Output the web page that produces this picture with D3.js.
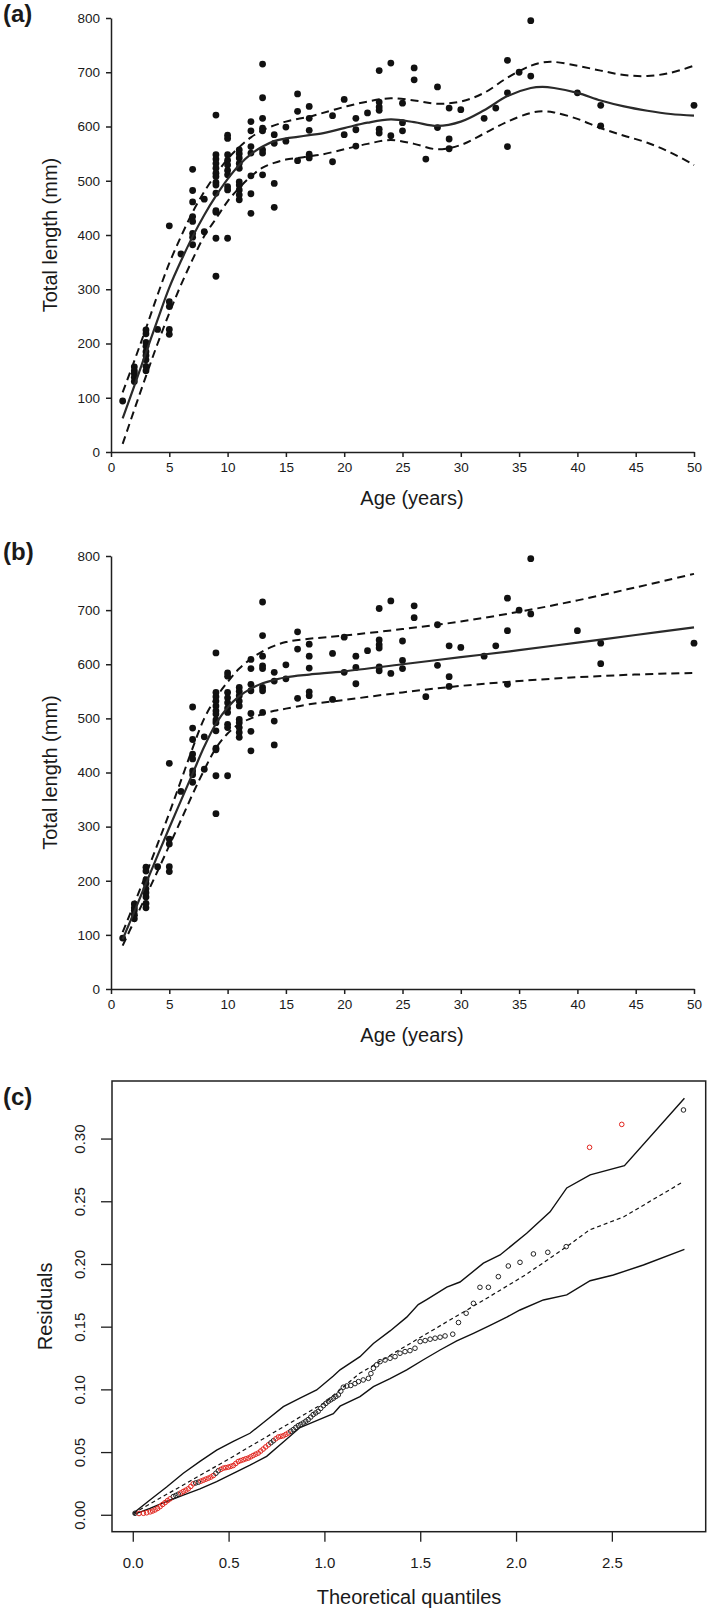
<!DOCTYPE html>
<html>
<head>
<meta charset="utf-8">
<script src="https://cdn.jsdelivr.net/npm/d3@7"></script>
<style>
body { margin: 0; background: #fff; }
svg text { font-family: "Liberation Sans", Arial, Helvetica, sans-serif; fill: #1a1a1a; }
</style>
</head>
<body>
<div id="chart"></div>
<script>
// observed fish: age (years) and total length (mm), same data in panels a and b
const ageObs = [1,
  2,2,2,2,2,
  3,3,3,3,3,3,3,3,3,
  4,
  5,5,5,5,5,
  6,
  7,7,7,7,7,7,7,7,
  8,8,
  9,9,9,9,9,9,9,9,9,9,9,9,9,9,
  10,10,10,10,10,10,10,10,10,10,
  11,11,11,11,11,11,11,11,11,11,
  12,12,12,12,12,12,12,
  13,13,13,13,13,13,13,13,
  14,14,14,14,
  15,15,
  16,16,16,
  17,17,17,17,17,
  19,19,
  20,20,
  21,21,21,
  22,
  23,23,23,23,23,23,
  24,24,
  25,25,25,
  26,26,
  27,
  28,28,
  29,29,29,
  30, 32, 33,
  34,34,34,
  35,
  36,36,
  40,
  42,42,
  50];
const lenObs = [94,
  157,150,145,138,130,
  225,218,202,195,185,178,170,158,150,
  226,
  417,277,268,226,217,
  365,
  521,482,461,434,425,403,396,382,
  466,406,
  621,548,540,532,523,514,508,497,492,477,445,442,394,324,
  584,578,548,538,529,519,511,489,483,394,
  557,550,542,532,523,498,492,483,474,465,
  609,592,563,551,509,476,440,
  715,653,615,597,592,557,551,511,
  585,569,495,451,
  599,573,
  660,628,537,
  637,615,593,549,542,
  620,535,
  650,585,
  615,594,564,
  625,
  703,645,636,630,595,588,
  717,583,
  643,607,592,
  708,686,
  540,
  673,598,
  634,577,559,
  631, 615, 634,
  722,662,563,
  700,
  795,693,
  662,
  639,601,
  639];

// panel a: smooth fit and its dashed band
const fitAgeA = [1,2,3,4,5,6,7,8,9,10,11,12,13,14,15,16,17,18,20,22,24,26,28,30,32,34,36,37,38,40,42,44,46,48,50];
const fitMidA = [62,122,183,244,303,352,397,437,472,503,529,549,563,573,578,581,584,587,597,607,613,608,601,609,630,656,671,673,671,662,648,637,629,623,620];
const fitUpA  = [110,168,228,290,348,397,442,480,512,540,562,580,593,602,609,614,618,624,636,646,652,648,642,646,662,690,712,718,719,712,703,695,693,699,712];
const fitLoA  = [15,78,140,200,256,308,355,398,430,462,487,508,524,533,539,542,545,548,558,568,575,568,558,566,587,609,625,628,626,614,597,583,570,552,529];

// panel b: growth curve and its dashed band
const fitAgeB = [1,2,3,4,5,6,7,8,9,10,11,12,13,14,15,17,20,25,30,35,40,45,50];
const fitMidB = [92,143,195,247,298,348,398,448,490,520,541,555,565,571,576,581,587,600,613,626,640,654,668];
const fitUpB  = [105,158,212,268,325,385,445,500,538,567,592,610,624,634,641,647,653,665,679,697,718,742,767];
const fitLoB  = [80,126,172,218,265,312,360,405,445,472,490,500,508,514,518,526,534,548,560,569,576,581,584];

// panel c: residual quantile plot (isRed 1 = red circle)
const qqTheo = [0.009,0.030,0.053,0.070,0.088,0.101,0.114,0.127,0.140,0.153,0.166,0.179,0.192,0.209,0.222,0.235,0.248,0.261,0.274,0.287,0.300,0.313,0.326,0.340,0.353,0.366,0.379,0.392,0.405,0.418,0.431,0.444,0.457,0.470,0.483,0.496,0.509,0.522,0.535,0.548,0.561,0.574,0.587,0.600,0.613,0.626,0.639,0.652,0.665,0.678,0.691,0.705,0.718,0.731,0.744,0.757,0.770,0.783,0.796,0.809,0.822,0.835,0.848,0.861,0.874,0.887,0.900,0.913,0.926,0.939,0.952,0.965,0.978,0.992,1.005,1.018,1.031,1.044,1.057,1.070,1.083,1.096,1.114,1.135,1.157,1.175,1.200,1.227,1.240,1.253,1.270,1.288,1.314,1.340,1.366,1.392,1.418,1.444,1.470,1.497,1.523,1.549,1.575,1.601,1.627,1.667,1.697,1.737,1.775,1.809,1.853,1.905,1.957,2.018,2.088,2.163,2.259,2.381,2.549,2.871];
const qqResid = [0.0016,0.0014,0.0016,0.0020,0.0027,0.0034,0.0043,0.0055,0.0069,0.0086,0.0101,0.0117,0.0131,0.0149,0.0158,0.0168,0.0178,0.0190,0.0200,0.0211,0.0230,0.0251,0.0258,0.0264,0.0272,0.0280,0.0288,0.0296,0.0305,0.0317,0.0335,0.0355,0.0366,0.0376,0.0380,0.0384,0.0390,0.0397,0.0413,0.0429,0.0436,0.0443,0.0450,0.0456,0.0466,0.0477,0.0487,0.0496,0.0512,0.0528,0.0545,0.0562,0.0578,0.0594,0.0610,0.0624,0.0629,0.0634,0.0645,0.0656,0.0670,0.0683,0.0700,0.0715,0.0725,0.0736,0.0750,0.0763,0.0783,0.0803,0.0816,0.0829,0.0852,0.0874,0.0892,0.0909,0.0921,0.0933,0.0947,0.0960,0.0990,0.1021,0.1031,0.1035,0.1050,0.1066,0.1079,0.1092,0.1130,0.1172,0.1200,0.1225,0.1238,0.1252,0.1265,0.1292,0.1305,0.1313,0.1332,0.1385,0.1393,0.1404,0.1412,0.1420,0.1430,0.1444,0.1537,0.1611,0.1690,0.1818,0.1818,0.1903,0.1988,0.2017,0.2084,0.2097,0.2142,0.2934,0.3117,0.3232];
const qqIsRed = [0,1,1,1,1,1,1,1,1,1,1,1,1,0,0,0,1,1,1,1,1,1,0,0,1,1,1,1,1,1,0,0,1,1,1,1,1,1,1,1,1,1,1,1,1,1,1,1,1,1,1,1,0,0,1,1,1,1,1,1,0,0,0,0,0,0,0,0,0,0,0,0,0,0,0,0,0,0,0,0,0,0,0,0,0,0,0,0,0,0,0,0,0,0,0,0,0,0,0,0,0,0,0,0,0,0,0,0,0,0,0,0,0,0,0,0,0,1,1,0];

const envUpTheo = [0,0.087,0.174,0.261,0.348,0.435,0.522,0.609,0.696,0.783,0.870,0.957,1.044,1.079,1.183,1.253,1.340,1.427,1.487,1.531,1.636,1.705,1.827,1.914,2.053,2.175,2.262,2.384,2.563,2.876];
const envUp     = [0.0016,0.0122,0.0225,0.0335,0.0430,0.0520,0.0590,0.0654,0.0760,0.0866,0.0935,0.0999,0.1110,0.1160,0.1265,0.1370,0.1470,0.1580,0.1680,0.1720,0.1820,0.1860,0.2010,0.2076,0.2249,0.2420,0.2610,0.2714,0.2788,0.3325];
const envLoTheo = [0,0.087,0.174,0.261,0.348,0.435,0.522,0.609,0.696,0.783,0.870,0.957,1.044,1.079,1.183,1.253,1.340,1.427,1.514,1.601,1.688,1.775,1.862,1.949,2.018,2.140,2.262,2.384,2.505,2.662,2.876];
const envLo     = [0.0005,0.0055,0.0110,0.0160,0.0210,0.0268,0.0335,0.0400,0.0470,0.0585,0.0700,0.0755,0.0810,0.0870,0.0946,0.1026,0.1090,0.1159,0.1240,0.1318,0.1390,0.1451,0.1515,0.1580,0.1637,0.1717,0.1757,0.1870,0.1916,0.1996,0.2121];
const refTheo = [0,0.50,1.00,1.18,1.50,1.83,2.05,2.26,2.38,2.56,2.87];
const refMid  = [0.0015,0.0450,0.0900,0.1130,0.1420,0.1717,0.1920,0.2140,0.2275,0.2380,0.2660];

const ageTicks = d3.range(0, 51, 5);
const lenTicks = d3.range(0, 801, 100);
const qTicks = [0, 0.5, 1.0, 1.5, 2.0, 2.5];
const rTicks = [0, 0.05, 0.10, 0.15, 0.20, 0.25, 0.30];

const width = 709, height = 1610;
const ink = "#1f1f1f";

const svg = d3.select("#chart").append("svg")
    .attr("width", width)
    .attr("height", height);

const obs = ageObs.map((a, i) => ({age: a, len: lenObs[i]}));

function growthPanel(top, bottom, label, fitAge, mid, up, lo, curve) {
    const x = d3.scaleLinear().domain([0, 50]).range([111, 694]);
    const y = d3.scaleLinear().domain([0, 800]).range([bottom, top]);
    const g = svg.append("g");

    const xAxis = g.append("g")
        .attr("transform", `translate(0,${bottom})`)
        .call(d3.axisBottom(x).tickValues(ageTicks).tickSize(5).tickSizeOuter(0).tickPadding(5));
    const yAxis = g.append("g")
        .attr("transform", "translate(111,0)")
        .call(d3.axisLeft(y).tickValues(lenTicks).tickSize(5).tickSizeOuter(0).tickPadding(6));
    [xAxis, yAxis].forEach(a => {
        a.selectAll("path, line").attr("stroke", ink).attr("stroke-width", 1.5);
        a.selectAll("text").style("font-size", "13.5px").attr("fill", ink);
    });

    // points
    g.append("g").selectAll("circle")
        .data(obs)
        .enter().append("circle")
        .attr("cx", d => x(d.age))
        .attr("cy", d => y(d.len))
        .attr("r", 3.4)
        .attr("fill", "#111");

    const line = vals => d3.line()
        .x((d, i) => x(fitAge[i]))
        .y(d => y(d))
        .curve(curve)(vals);

    g.append("path").attr("d", line(mid))
        .attr("fill", "none").attr("stroke", "#2a2a2a").attr("stroke-width", 2.2);
    [up, lo].forEach(v => {
        g.append("path").attr("d", line(v))
            .attr("fill", "none").attr("stroke", "#111").attr("stroke-width", 2)
            .attr("stroke-dasharray", "8,5");
    });

    g.append("text")
        .attr("x", 412).attr("y", bottom + 53)
        .attr("text-anchor", "middle")
        .style("font-size", "20px")
        .text("Age (years)");
    g.append("text")
        .attr("transform", `translate(57,${(top + bottom) / 2}) rotate(-90)`)
        .attr("text-anchor", "middle")
        .style("font-size", "20px")
        .text("Total length (mm)");
    g.append("text")
        .attr("x", 3).attr("y", top + 4)
        .style("font-size", "24px").style("font-weight", "bold")
        .text(label);
}

growthPanel(18, 452, "(a)", fitAgeA, fitMidA, fitUpA, fitLoA, d3.curveCatmullRom);
growthPanel(556, 989, "(b)", fitAgeB, fitMidB, fitUpB, fitLoB, d3.curveCatmullRom);

// panel c
const xC = d3.scaleLinear().domain([-0.111, 2.987]).range([112, 705.7]);
const yC = d3.scaleLinear().domain([-0.0131, 0.3463]).range([1531.7, 1081]);
const gc = svg.append("g");

gc.append("rect")
    .attr("x", xC.range()[0]).attr("y", yC.range()[1])
    .attr("width", xC.range()[1] - xC.range()[0])
    .attr("height", yC.range()[0] - yC.range()[1])
    .attr("fill", "none").attr("stroke", ink).attr("stroke-width", 1.5);

gc.selectAll(".xt").data(qTicks).enter().append("line")
    .attr("x1", d => xC(d)).attr("x2", d => xC(d))
    .attr("y1", yC.range()[0]).attr("y2", yC.range()[0] + 10)
    .attr("stroke", ink).attr("stroke-width", 1.3);
gc.selectAll(".xl").data(qTicks).enter().append("text")
    .attr("x", d => xC(d)).attr("y", 1568)
    .attr("text-anchor", "middle")
    .style("font-size", "15px")
    .text(d => d3.format(".1f")(d));

gc.selectAll(".yt").data(rTicks).enter().append("line")
    .attr("x1", xC.range()[0] - 11).attr("x2", xC.range()[0])
    .attr("y1", d => yC(d)).attr("y2", d => yC(d))
    .attr("stroke", ink).attr("stroke-width", 1.3);
gc.selectAll(".yl").data(rTicks).enter().append("text")
    .attr("transform", d => `translate(85,${yC(d)}) rotate(-90)`)
    .attr("text-anchor", "middle")
    .style("font-size", "15px")
    .text(d => d3.format(".2f")(d));

const lineC = (xs, ys) => d3.line()
    .x((d, i) => xC(xs[i]))
    .y(d => yC(d))(ys);

gc.append("path").attr("d", lineC(envUpTheo, envUp))
    .attr("fill", "none").attr("stroke", "#111").attr("stroke-width", 1.4);
gc.append("path").attr("d", lineC(envLoTheo, envLo))
    .attr("fill", "none").attr("stroke", "#111").attr("stroke-width", 1.4);
gc.append("path").attr("d", lineC(refTheo, refMid))
    .attr("fill", "none").attr("stroke", "#111").attr("stroke-width", 1.2)
    .attr("stroke-dasharray", "4,3");

gc.append("g").selectAll("circle")
    .data(qqTheo.map((q, i) => ({q: q, r: qqResid[i], red: qqIsRed[i]})))
    .enter().append("circle")
    .attr("cx", d => xC(d.q))
    .attr("cy", d => yC(d.r))
    .attr("r", 2.3)
    .attr("fill", "none")
    .attr("stroke", d => d.red ? "#e2241d" : "#222")
    .attr("stroke-width", 1);

gc.append("text")
    .attr("x", 409).attr("y", 1604)
    .attr("text-anchor", "middle")
    .style("font-size", "20px")
    .text("Theoretical quantiles");
gc.append("text")
    .attr("transform", `translate(52,${(1081 + 1531.7) / 2}) rotate(-90)`)
    .attr("text-anchor", "middle")
    .style("font-size", "20px")
    .text("Residuals");
gc.append("text")
    .attr("x", 3).attr("y", 1105)
    .style("font-size", "24px").style("font-weight", "bold")
    .text("(c)");
</script>
</body>
</html>
